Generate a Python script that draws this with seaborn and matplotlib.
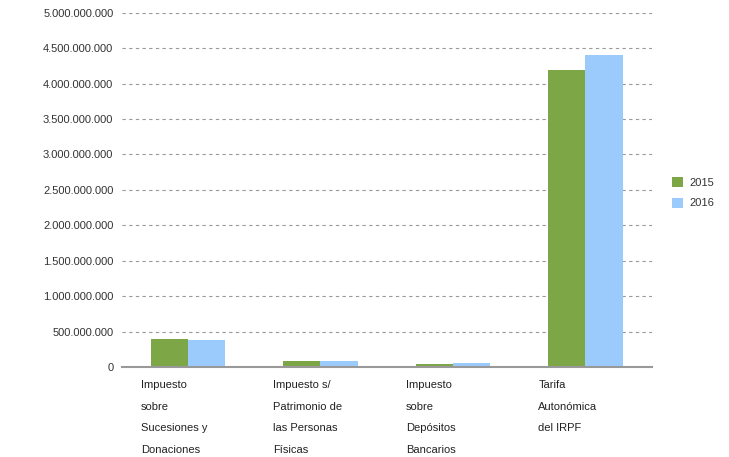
import matplotlib
matplotlib.use('Agg')
import matplotlib.pyplot as plt
import matplotlib.ticker as mticker
import matplotlib.transforms as mtransforms
import seaborn as sns
import pandas as pd

# datos
impuestos = ['Impuesto\nsobre\nSucesiones y\nDonaciones',
             'Impuesto s/\nPatrimonio de\nlas Personas\nFísicas',
             'Impuesto\nsobre\nDepósitos\nBancarios',
             'Tarifa\nAutonómica\ndel IRPF']
anios = ['2015', '2016']
valores_2015 = [395000000, 85000000, 42000000, 4195000000]
valores_2016 = [381000000, 80000000, 56000000, 4407000000]
colores = ['#7da647', '#9bcbfd']

df = pd.DataFrame({
    'impuesto': impuestos * 2,
    'anio': [anios[0]] * 4 + [anios[1]] * 4,
    'valor': valores_2015 + valores_2016,
})

sns.set_style('white')
plt.rcParams['font.family'] = ['Liberation Sans', 'DejaVu Sans']

fig = plt.figure(figsize=(7.29, 4.57), dpi=100)
ax = fig.add_axes([0.167, 0.197, 0.727, 0.775])

sns.barplot(data=df, x='impuesto', y='valor', hue='anio', palette=colores,
            width=0.56, saturation=1, linewidth=0, ax=ax)

ax.set_ylim(0, 5000000000)
ax.set_xlim(-0.5, 3.5)
ax.yaxis.set_major_locator(mticker.MultipleLocator(500000000))
ax.yaxis.set_major_formatter(mticker.FuncFormatter(lambda v, p: f'{int(v):,}'.replace(',', '.')))
ax.tick_params(axis='y', labelsize=8, colors='#333333', length=0, pad=6)
ax.grid(axis='y', linestyle=(0, (3, 3)), color='#999999', linewidth=0.8)
ax.set_axisbelow(True)
for s in ['top', 'right', 'left']:
    ax.spines[s].set_visible(False)
ax.spines['bottom'].set_color('#999999')
ax.spines['bottom'].set_linewidth(1.5)
ax.set_xlabel('')
ax.set_ylabel('')

# etiquetas del eje x alineadas a la izquierda
ax.set_xticks(range(len(impuestos)))
ax.set_xticklabels([])
ax.tick_params(axis='x', length=0)
trans = mtransforms.blended_transform_factory(ax.transData, ax.transAxes)
for i, lab in enumerate(impuestos):
    ax.text(i - 0.355, -0.037, lab, transform=trans, ha='left', va='top',
            fontsize=8, color='#222222', linespacing=2.45)

leg = ax.legend(loc='center left', bbox_to_anchor=(0.908, 0.578),
                bbox_transform=fig.transFigure, frameon=False, fontsize=8,
                handlelength=1.0, handleheight=1.0, handletextpad=0.6, labelspacing=0.85)
for t in leg.get_texts():
    t.set_color('#333333')

fig.savefig('out.png', dpi=100)
